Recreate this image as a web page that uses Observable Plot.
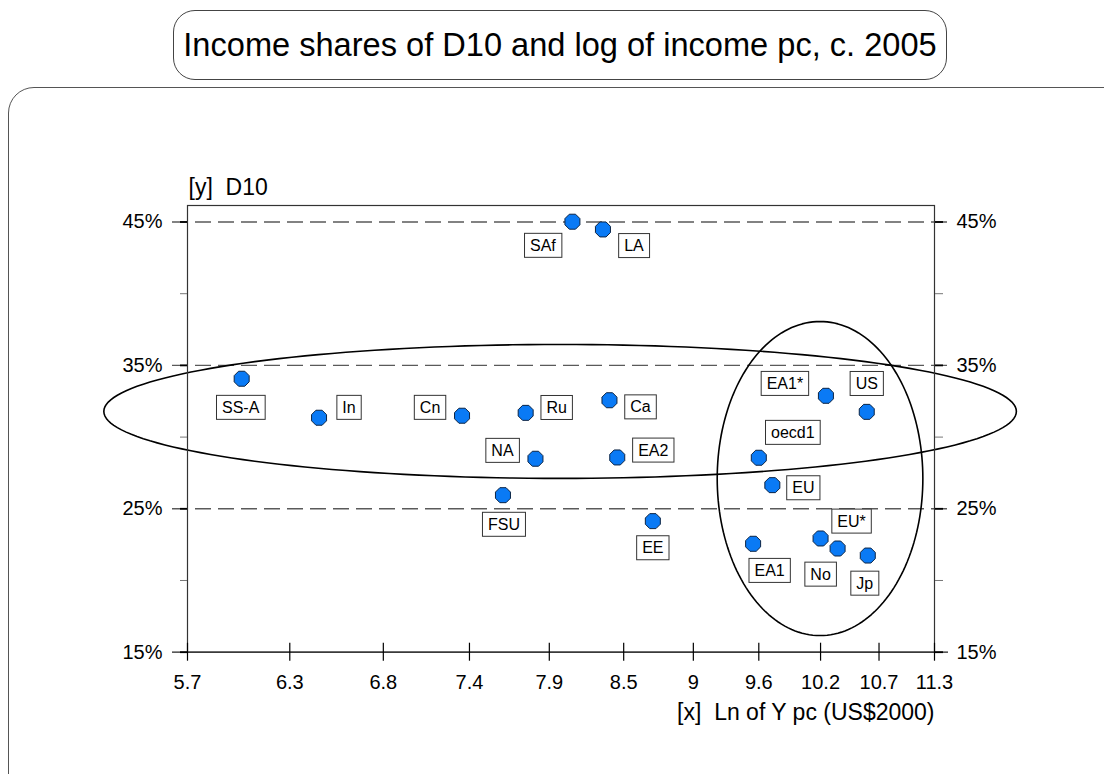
<!DOCTYPE html>
<html>
<head>
<meta charset="utf-8">
<script src="https://cdn.jsdelivr.net/npm/d3@7"></script>
<script src="https://cdn.jsdelivr.net/npm/@observablehq/plot@0.6"></script>
<style>
  html, body { margin: 0; padding: 0; background: #fff; overflow: hidden; }
  #wrap { position: relative; width: 1104px; height: 774px; overflow: hidden;
          font-family: "Liberation Sans", Arial, Helvetica, sans-serif; }
  #chart { position: absolute; left: 0; top: 0; }
  #titlebox { position: absolute; left: 173px; top: 10px; width: 774px; height: 70px;
              box-sizing: border-box; border: 1.3px solid #444; border-radius: 22px;
              display: flex; align-items: center; justify-content: center;
              font-size: 32.6px; color: #000; }
  #outerbox { position: absolute; left: 8px; top: 87px; width: 1140px; height: 720px;
              box-sizing: border-box; border: 1.3px solid #555; border-radius: 26px;
              pointer-events: none; }
</style>
</head>
<body>
<div id="wrap">
  <div id="outerbox"></div>
  <div id="chart"></div>
  <div id="titlebox">Income shares of D10 and log of income pc, c. 2005</div>
</div>
<script>
// ---------------- data ----------------
const regions = ["SS-A","In","Cn","Ru","Ca","NA","EA2","FSU","EE","SAf","LA","EA1*","US","oecd1","EU","EU*","No","Jp","EA1"];
const lnY     = [5.99, 6.43, 7.33, 7.77, 8.39, 7.84, 8.45, 7.61, 8.73, 8.11, 8.34, 10.23, 10.62, 9.62, 9.74, 10.18, 10.34, 10.63, 9.57];
const d10     = [34.07, 31.35, 31.49, 31.69, 32.57, 28.49, 28.58, 25.95, 24.14, 45.02, 44.48, 32.88, 31.76, 28.56, 26.65, 22.93, 22.23, 21.74, 22.56];

const xTicks      = [5.7, 6.26, 6.82, 7.38, 7.94, 8.5, 9.06, 9.62, 10.18, 10.74, 11.3];
const xTickLabels = ["5.7","6.3","6.8","7.4","7.9","8.5","9","9.6","10.2","10.7","11.3"];
const yMajor = [15, 25, 35, 45];
const yMinor = [20, 30, 40];
const yGrid  = [25, 35, 45];
const xTitle = "[x]  Ln of Y pc (US$2000)";
const yTitle = "[y]  D10";

// highlighted groups: centre (lnY, D10) and semi-axes (x in log units, y in %)
const ellipses = [
  {cx: 8.019, rx: 0.418, cy: 31.79, ry: 4.67},
  {cx: 10.175, rx: 0.0942, cy: 27.11, ry: 10.95}
];

// ---------------- layout (label nudges in px) ----------------
const labelNudge = {
  "SS-A": [-1, 29], "In": [30, -10], "Cn": [-32, -8], "Ru": [31, -5], "Ca": [31, 7],
  "NA": [-33, -8], "EA2": [36, -7], "FSU": [1, 29.5], "EE": [0, 27], "SAf": [-29.5, 24],
  "LA": [31, 16.5], "EA1*": [-41, -12], "US": [0, -28], "oecd1": [34, -25], "EU": [31, 3],
  "EU*": [31, -17], "No": [-17, 26], "Jp": [-3, 28], "EA1": [16.5, 27]
};

const points = regions.map((r, i) => ({region: r, x: lnY[i], y: d10[i]}));

function ellipsePath(e) {
  const pts = [];
  for (let k = 0; k < 180; k++) {
    const t = (k / 180) * 2 * Math.PI;
    pts.push({x: e.cx * Math.exp(e.rx * Math.cos(t)), y: e.cy + e.ry * Math.sin(t)});
  }
  return pts;
}

const octagon = {
  draw(context, size) {
    const R = Math.sqrt(size / Math.PI) * 1.04;
    for (let k = 0; k < 8; k++) {
      const a = Math.PI / 8 + k * Math.PI / 4;
      const px = R * Math.cos(a), py = R * Math.sin(a);
      if (k === 0) context.moveTo(px, py); else context.lineTo(px, py);
    }
    context.closePath();
  }
};

const tickLabel = new Map(xTicks.map((t, i) => [t, xTickLabels[i]]));
const FONT = "'Liberation Sans', Arial, Helvetica, sans-serif";

const labelMarks = points.map(p => Plot.text([p], {
  x: "x", y: "y", text: "region",
  dx: labelNudge[p.region][0], dy: labelNudge[p.region][1],
  fontSize: 16, fill: "#000"
}));

const chart = Plot.plot({
  width: 1104,
  height: 774,
  marginLeft: 187,
  marginRight: 170,
  marginTop: 205,
  marginBottom: 122.3,
  style: {background: "transparent", fontFamily: FONT, color: "#000"},
  x: {type: "log", domain: [5.7, 11.3]},
  y: {domain: [15, 46.15]},
  marks: [
    Plot.ruleY(yGrid, {stroke: "#5a5a5a", strokeWidth: 1.4, strokeDasharray: "16,7", insetLeft: -15, insetRight: -14}),
    Plot.ruleY([15], {stroke: "#222", strokeWidth: 1.3, insetLeft: -15, insetRight: -14}),
    ...ellipses.map(e => Plot.line(ellipsePath(e), {x: "x", y: "y", curve: "linear-closed", stroke: "#000", strokeWidth: 1.6})),
    Plot.frame({stroke: "#333", strokeWidth: 1.2}),
    Plot.axisY(yMajor, {anchor: "left", tickSize: 7, tickPadding: 18, strokeWidth: 1.8, tickFormat: d => d + "%", fontSize: 20, label: null}),
    Plot.axisY(yMajor, {anchor: "right", tickSize: 8, tickPadding: 14, strokeWidth: 1.8, tickFormat: d => d + "%", fontSize: 20, label: null}),
    Plot.axisY(yMinor, {anchor: "left", tickSize: 7, stroke: "#777", tickFormat: () => "", label: null}),
    Plot.axisY(yMinor, {anchor: "right", tickSize: 8, stroke: "#777", tickFormat: () => "", label: null}),
    Plot.axisX(xTicks, {anchor: "bottom", tickSize: 18, dy: -9, tickPadding: 14, strokeWidth: 1.2, tickFormat: d => tickLabel.get(d), fontSize: 20, label: null}),
    Plot.text([xTitle], {frameAnchor: "bottom-right", textAnchor: "end", dy: 68, fontSize: 23, fill: "#000"}),
    Plot.text([yTitle], {frameAnchor: "top-left", textAnchor: "start", dx: 1, dy: -27, fontSize: 23, fill: "#000"}),
    Plot.dot(points, {x: "x", y: "y", r: 7.8, symbol: octagon, fill: "#0a7af5", stroke: "#0c2444", strokeWidth: 1}),
    ...labelMarks
  ]
});

document.getElementById("chart").appendChild(chart);

// white boxes behind the point labels
const names = new Set(regions);
chart.querySelectorAll("text").forEach(t => {
  if (!names.has(t.textContent)) return;
  const g = t.parentNode;
  if (g.closest && g.closest("[aria-label*='axis']")) return;
  const b = t.getBBox();
  const cy = b.y + b.height / 2;
  const rect = document.createElementNS("http://www.w3.org/2000/svg", "rect");
  rect.setAttribute("x", b.x - 5.5);
  rect.setAttribute("y", cy - 12);
  rect.setAttribute("width", b.width + 11);
  rect.setAttribute("height", 24);
  rect.setAttribute("fill", "#fff");
  rect.setAttribute("stroke", "#333");
  rect.setAttribute("stroke-width", 1);
  if (t.getAttribute("transform")) rect.setAttribute("transform", t.getAttribute("transform"));
  g.insertBefore(rect, t);
});
</script>
</body>
</html>
